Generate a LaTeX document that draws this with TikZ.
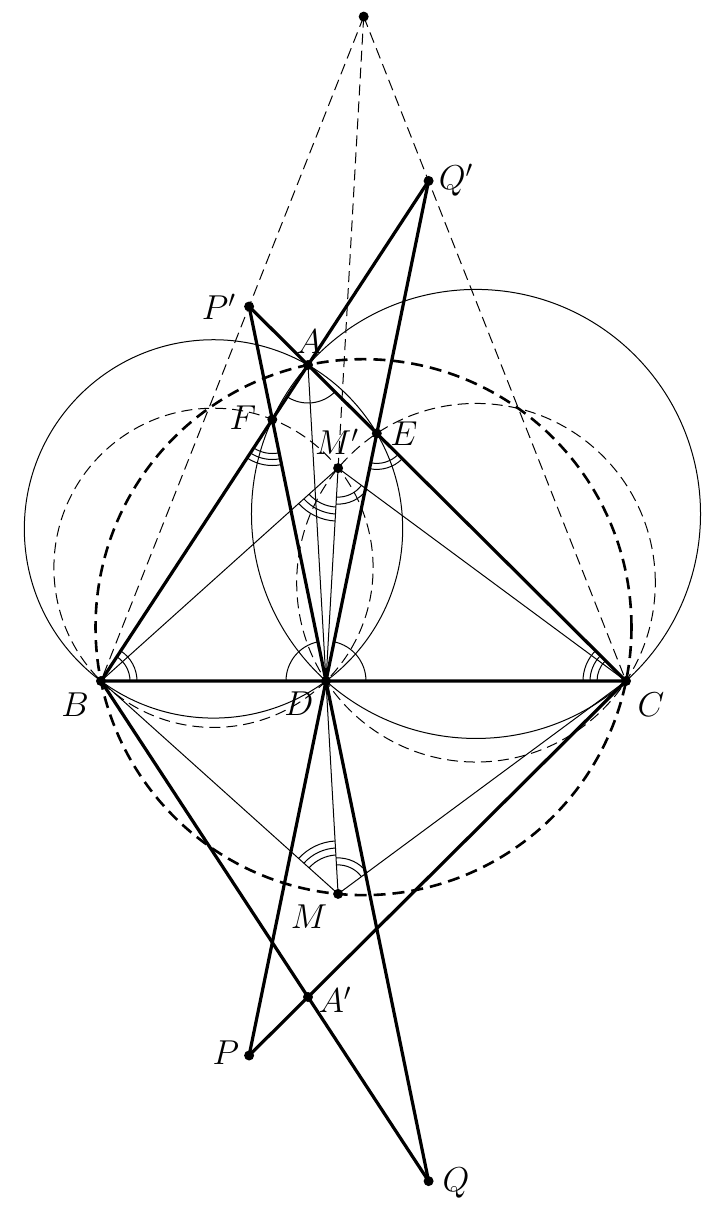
\documentclass[tikz,border=0pt]{standalone}
\usepackage{tikz}
\newcommand\angarc[4]{\draw[thinl] ([shift={(#2:#4)}]#1) arc[start angle=#2,end angle=#3,radius=#4];}
\begin{document}
\begin{tikzpicture}[x=0.5pt,y=0.5pt,
  thinl/.style={line width=0.5pt},
  thickl/.style={line width=1.6pt},
  thindash/.style={line width=0.5pt,dash pattern=on 5.5pt off 3pt},
  thickdash/.style={line width=1.3pt,dash pattern=on 6pt off 3.5pt},
  lbl/.style={font=\fontsize{17}{20}\selectfont,inner sep=0pt}]
\useasboundingbox (0,0) rectangle (716,-1211);
% points
\coordinate (A) at (308,-365);
\coordinate (B) at (101,-681);
\coordinate (C) at (626,-681);
\coordinate (D) at (326,-681);
\coordinate (M) at (338.1,-893.9);
\coordinate (Mp) at (338.1,-468.1);
\coordinate (F) at (272.3,-419.5);
\coordinate (E) at (376.8,-433.4);
\coordinate (Pp) at (249.1,-306.5);
\coordinate (Qp) at (428.6,-180.9);
\coordinate (T) at (363.7,-16.6);
\coordinate (P) at (249.1,-1055.5);
\coordinate (Q) at (428.6,-1181.1);
\coordinate (Ap) at (308,-997);
\coordinate (O) at (363.5,-627.15);
\coordinate (O1) at (213.5,-528.9);
\coordinate (O2) at (476,-513.94);
\coordinate (O3) at (213.5,-567.81);
\coordinate (O4) at (476,-582.73);
% circles
\draw[thinl] (O1) circle[radius=189.18];
\draw[thinl] (O2) circle[radius=224.52];
\draw[thindash] (O3) circle[radius=159.6];
\draw[thindash] (O4) circle[radius=179.3];
\draw[thickdash] (O) circle[radius=267.97];
% dashed lines
\draw[thindash] (T) -- (B);
\draw[thindash] (T) -- (C);
\draw[thindash] (T) -- (Mp);
% thin lines
\draw[thinl] (A) -- (M);
\draw[thinl] (Mp) -- (D);
\draw[thinl] (B) -- (M) -- (C);
\draw[thinl] (B) -- (Mp) -- (C);
% thick lines
\draw[thickl] (A) -- (B) -- (C) -- cycle;
\draw[thickl] (Pp) -- (A) -- (Qp);
\draw[thickl] (Pp) -- (D) -- (Q);
\draw[thickl] (Qp) -- (D) -- (P);
\draw[thickl] (B) -- (Q);
\draw[thickl] (C) -- (P);
% angle marks
\angarc{A}{236.8}{315.2}{38}
\angarc{B}{0}{56.78}{29}
\angarc{B}{0}{56.78}{36}
\angarc{C}{135.2}{180}{29}
\angarc{C}{135.2}{180}{36}
\angarc{C}{135.2}{180}{43}
\angarc{F}{236.78}{281.6}{34}
\angarc{F}{236.78}{281.6}{40}
\angarc{F}{236.78}{281.6}{46}
\angarc{E}{258.4}{315.2}{30}
\angarc{E}{258.4}{315.2}{36}
\angarc{D}{101.6}{180}{40}
\angarc{D}{0}{78.4}{40}
\angarc{Mp}{221.92}{266.75}{39}
\angarc{Mp}{221.92}{266.75}{46}
\angarc{Mp}{221.92}{266.75}{53}
\angarc{Mp}{266.75}{323.52}{29}
\angarc{Mp}{266.75}{323.52}{36}
\angarc{M}{93.25}{138.08}{39}
\angarc{M}{93.25}{138.08}{46}
\angarc{M}{93.25}{138.08}{53}
\angarc{M}{36.48}{93.25}{29}
\angarc{M}{36.48}{93.25}{36}
% dots
\foreach \p in {A,B,C,D,M,Mp,F,E,Pp,Qp,T,P,Q,Ap}
  \fill (\p) circle[radius=2.5pt];
% labels
\node[lbl] (lA) at (309,-342) {$A$};
\node[lbl] (lB) at (75,-705) {$B$};
\node[lbl] (lC) at (651,-705) {$C$};
\node[lbl] (lD) at (299,-704) {$D$};
\node[lbl] (lE) at (404,-434) {$E$};
\node[lbl] (lF) at (243,-418) {$F$};
\node[lbl] (lM) at (309,-917) {$M$};
\node[lbl] (lMp) at (337,-442) {$M'$};
\node[lbl] (lPp) at (219,-307) {$P'$};
\node[lbl] (lQp) at (456,-180) {$Q'$};
\node[lbl] (lP) at (226,-1053) {$P$};
\node[lbl] (lQ) at (456,-1183) {$Q$};
\node[lbl] (lAp) at (335,-1000) {$A'$};
\end{tikzpicture}
\end{document}
